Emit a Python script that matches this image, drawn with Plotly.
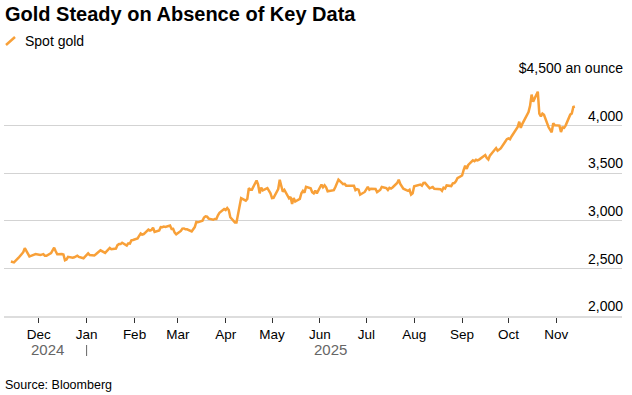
import plotly.graph_objects as go

# ---- data (spot gold, USD/oz, daily) ----
dates = [
    "2024-11-13", "2024-11-14", "2024-11-15", "2024-11-18", "2024-11-19", "2024-11-20", "2024-11-21", "2024-11-22",
    "2024-11-25", "2024-11-26", "2024-11-27", "2024-11-28", "2024-11-29",
    "2024-12-02", "2024-12-03", "2024-12-04", "2024-12-05", "2024-12-06", "2024-12-09", "2024-12-10", "2024-12-11",
    "2024-12-12", "2024-12-13", "2024-12-16", "2024-12-17", "2024-12-18", "2024-12-19", "2024-12-20", "2024-12-23",
    "2024-12-24", "2024-12-26", "2024-12-27", "2024-12-30", "2024-12-31",
    "2025-01-02", "2025-01-03", "2025-01-06", "2025-01-07", "2025-01-08", "2025-01-09", "2025-01-10", "2025-01-13",
    "2025-01-14", "2025-01-15", "2025-01-16", "2025-01-17", "2025-01-20", "2025-01-21", "2025-01-22", "2025-01-23",
    "2025-01-24", "2025-01-27", "2025-01-28", "2025-01-29", "2025-01-30", "2025-01-31",
    "2025-02-03", "2025-02-04", "2025-02-05", "2025-02-06", "2025-02-07", "2025-02-10", "2025-02-11", "2025-02-12",
    "2025-02-13", "2025-02-14", "2025-02-17", "2025-02-18", "2025-02-19", "2025-02-20", "2025-02-21", "2025-02-24",
    "2025-02-25", "2025-02-26", "2025-02-27", "2025-02-28",
    "2025-03-03", "2025-03-04", "2025-03-05", "2025-03-06", "2025-03-07", "2025-03-10", "2025-03-11", "2025-03-12",
    "2025-03-13", "2025-03-14", "2025-03-17", "2025-03-18", "2025-03-19", "2025-03-20", "2025-03-21", "2025-03-24",
    "2025-03-25", "2025-03-26", "2025-03-27", "2025-03-28", "2025-03-31",
    "2025-04-01", "2025-04-02", "2025-04-03", "2025-04-04", "2025-04-07", "2025-04-08", "2025-04-09", "2025-04-10",
    "2025-04-11", "2025-04-14", "2025-04-15", "2025-04-16", "2025-04-17", "2025-04-18", "2025-04-21", "2025-04-22",
    "2025-04-23", "2025-04-24", "2025-04-25", "2025-04-28", "2025-04-29", "2025-04-30",
    "2025-05-01", "2025-05-02", "2025-05-05", "2025-05-06", "2025-05-07", "2025-05-08", "2025-05-09", "2025-05-12",
    "2025-05-13", "2025-05-14", "2025-05-15", "2025-05-16", "2025-05-19", "2025-05-20", "2025-05-21", "2025-05-22",
    "2025-05-23", "2025-05-26", "2025-05-27", "2025-05-28", "2025-05-29", "2025-05-30",
    "2025-06-02", "2025-06-03", "2025-06-04", "2025-06-05", "2025-06-06", "2025-06-09", "2025-06-10", "2025-06-11",
    "2025-06-12", "2025-06-13", "2025-06-16", "2025-06-17", "2025-06-18", "2025-06-19", "2025-06-20", "2025-06-23",
    "2025-06-24", "2025-06-25", "2025-06-26", "2025-06-27", "2025-06-30",
    "2025-07-01", "2025-07-02", "2025-07-03", "2025-07-04", "2025-07-07", "2025-07-08", "2025-07-09", "2025-07-10",
    "2025-07-11", "2025-07-14", "2025-07-15", "2025-07-16", "2025-07-17", "2025-07-18", "2025-07-21", "2025-07-22",
    "2025-07-23", "2025-07-24", "2025-07-25", "2025-07-28", "2025-07-29", "2025-07-30", "2025-07-31",
    "2025-08-01", "2025-08-04", "2025-08-05", "2025-08-06", "2025-08-07", "2025-08-08", "2025-08-11", "2025-08-12",
    "2025-08-13", "2025-08-14", "2025-08-15", "2025-08-18", "2025-08-19", "2025-08-20", "2025-08-21", "2025-08-22",
    "2025-08-25", "2025-08-26", "2025-08-27", "2025-08-28", "2025-08-29",
    "2025-09-01", "2025-09-02", "2025-09-03", "2025-09-04", "2025-09-05", "2025-09-08", "2025-09-09", "2025-09-10",
    "2025-09-11", "2025-09-12", "2025-09-15", "2025-09-16", "2025-09-17", "2025-09-18", "2025-09-19", "2025-09-22",
    "2025-09-23", "2025-09-24", "2025-09-25", "2025-09-26", "2025-09-29", "2025-09-30",
    "2025-10-01", "2025-10-02", "2025-10-03", "2025-10-06", "2025-10-07", "2025-10-08", "2025-10-09", "2025-10-10",
    "2025-10-13", "2025-10-14", "2025-10-15", "2025-10-16", "2025-10-17", "2025-10-20", "2025-10-21", "2025-10-22",
    "2025-10-23", "2025-10-24", "2025-10-27", "2025-10-28", "2025-10-29", "2025-10-30", "2025-10-31",
    "2025-11-03", "2025-11-04", "2025-11-05", "2025-11-06", "2025-11-07", "2025-11-10", "2025-11-11", "2025-11-12",
    "2025-11-13",
]
prices = [
    2573, 2565, 2563, 2612, 2631, 2651, 2670, 2712,
    2626, 2632, 2637, 2640, 2650,
    2640, 2643, 2650, 2632, 2633, 2660, 2694, 2718,
    2680, 2648, 2652, 2646, 2586, 2594, 2622, 2612,
    2617, 2634, 2621, 2606, 2624,
    2658, 2640, 2636, 2648, 2662, 2670, 2690, 2663,
    2677, 2697, 2715, 2702, 2708, 2745, 2755, 2755,
    2770, 2740, 2763, 2760, 2794, 2798,
    2815, 2842, 2867, 2856, 2861, 2908, 2898, 2904,
    2928, 2882, 2898, 2935, 2933, 2939, 2936, 2951,
    2915, 2916, 2876, 2858,
    2893, 2918, 2920, 2910, 2910, 2888, 2916, 2934,
    2988, 2984, 3001, 3035, 3047, 3044, 3023, 3011,
    3020, 3019, 3057, 3085, 3124,
    3113, 3134, 3114, 3037, 2983, 2982, 3083, 3175,
    3237, 3211, 3230, 3342, 3327, 3327, 3424, 3381,
    3288, 3349, 3319, 3343, 3316, 3288,
    3239, 3241, 3334, 3431, 3366, 3306, 3325, 3236,
    3251, 3177, 3240, 3203, 3230, 3289, 3314, 3294,
    3357, 3342, 3300, 3288, 3317, 3289,
    3381, 3353, 3373, 3352, 3310, 3325, 3322, 3354,
    3386, 3433, 3385, 3388, 3369, 3370, 3368, 3368,
    3323, 3333, 3327, 3274, 3303,
    3338, 3357, 3326, 3337, 3335, 3301, 3313, 3324,
    3355, 3343, 3324, 3347, 3339, 3350, 3397, 3431,
    3387, 3368, 3337, 3314, 3326, 3275, 3289,
    3363, 3373, 3381, 3369, 3397, 3398, 3342, 3348,
    3355, 3336, 3336, 3332, 3315, 3348, 3339, 3372,
    3365, 3393, 3397, 3416, 3448,
    3476, 3533, 3578, 3546, 3587, 3636, 3626, 3641,
    3634, 3643, 3679, 3690, 3659, 3644, 3685, 3746,
    3764, 3736, 3749, 3760, 3833, 3858,
    3866, 3857, 3886, 3961, 3985, 4041, 3976, 4018,
    4110, 4143, 4208, 4326, 4252, 4356, 4125, 4096,
    4126, 4113, 3982, 3952, 3930, 4025, 4003,
    4000, 3933, 3980, 3977, 4000, 4115, 4127, 4195,
    4200,
]
x_tickvals = ["2024-12-01", "2025-01-01", "2025-02-01", "2025-03-01", "2025-04-01", "2025-05-01",
              "2025-06-01", "2025-07-01", "2025-08-01", "2025-09-01", "2025-10-01", "2025-11-01"]
x_ticktext = ["Dec", "Jan", "Feb", "Mar", "Apr", "May", "Jun", "Jul", "Aug", "Sep", "Oct", "Nov"]
y_tickvals = [2000, 2500, 3000, 3500, 4000, 4500]
y_ticktext = ["2,000", "2,500", "3,000", "3,500", "4,000", "$4,500 an ounce"]
series_name = "Spot gold"
title_text = "Gold Steady on Absence of Key Data"
source_text = "Source: Bloomberg"
year_labels = ["2024", "2025"]
year_label_x = ["2024-12-07", "2025-06-08"]
year_sep_x = "2025-01-01"

# ---- layout helpers ----
W, H = 632, 395
ML, MR, MT, MB = 4, 10, 78, 79
PW, PH = W - ML - MR, H - MT - MB
FONT = "Liberation Sans, Arial, Helvetica, sans-serif"
ORANGE = "#F8A038"


def px_x(px):
    return (px - ML) / PW


def px_y(py):
    return (H - MB - py) / PH


fig = go.Figure()
fig.add_trace(go.Scatter(
    x=dates, y=prices, mode="lines", name=series_name,
    line=dict(color=ORANGE, width=2.5), showlegend=False,
))

fig.update_layout(
    width=W, height=H,
    margin=dict(l=ML, r=MR, t=MT, b=MB, pad=0, autoexpand=False),
    paper_bgcolor="white", plot_bgcolor="white",
    font=dict(family=FONT, color="black", size=14),
    xaxis=dict(
        type="date", automargin=False,
        range=["2024-11-08 13:00", "2025-12-13 12:00"],
        tickvals=x_tickvals, ticktext=x_ticktext,
        ticks="outside", ticklen=5, tickwidth=1, tickcolor="#333333",
        showline=True, linecolor="#dddddd", linewidth=2,
        showgrid=False, zeroline=False,
        tickfont=dict(size=13.5, color="black", family=FONT),
        fixedrange=True,
    ),
    yaxis=dict(
        side="right", range=[2000, 4500], automargin=False,
        tickvals=y_tickvals, ticktext=y_ticktext,
        ticklabelposition="inside top", ticklabeloverflow="allow",
        ticklabelstandoff=-4,
        ticks="", showline=False, zeroline=False,
        showgrid=True, gridcolor="#d3d3d3", gridwidth=1,
        tickfont=dict(size=14, color="black", family=FONT),
        fixedrange=True,
    ),
)

annotations = [
    dict(text="<b>" + title_text + "</b>", xref="paper", yref="paper",
         x=px_x(3), y=px_y(14), xanchor="left", yanchor="middle", showarrow=False,
         font=dict(size=20, color="black", family=FONT)),
    dict(text=series_name, xref="paper", yref="paper",
         x=px_x(23), y=px_y(41), xanchor="left", yanchor="middle", showarrow=False,
         font=dict(size=14, color="black", family=FONT)),
    dict(text=source_text, xref="paper", yref="paper",
         x=px_x(3), y=px_y(385), xanchor="left", yanchor="middle", showarrow=False,
         font=dict(size=12.5, color="black", family=FONT)),
]
for lbl, xd in zip(year_labels, year_label_x):
    annotations.append(dict(text=lbl, xref="x", yref="paper", x=xd, y=px_y(349.5),
                            xanchor="center", yanchor="middle", showarrow=False,
                            font=dict(size=15, color="#666666", family=FONT)))
fig.update_layout(annotations=annotations)

fig.add_shape(type="line", xref="paper", yref="paper",
              x0=px_x(6), y0=px_y(45), x1=px_x(15), y1=px_y(37),
              line=dict(color=ORANGE, width=2.5))
fig.add_shape(type="line", xref="x", yref="paper",
              x0=year_sep_x, x1=year_sep_x, y0=px_y(345), y1=px_y(356),
              line=dict(color="#666666", width=1))

fig.write_html("out.html", config={"displayModeBar": False},
               post_script="document.body.style.margin='0px';document.body.style.overflow='hidden';")
